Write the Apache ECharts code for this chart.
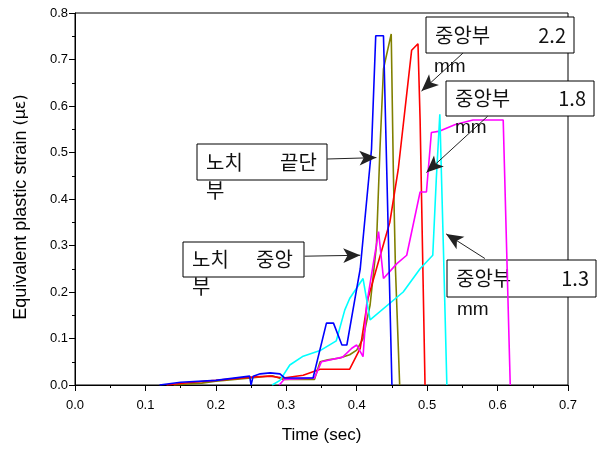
<!DOCTYPE html>
<html><head><meta charset="utf-8">
<script src="https://cdn.jsdelivr.net/npm/echarts@6/dist/echarts.min.js"></script>
<style>html,body{margin:0;padding:0;background:#fff}#c{width:600px;height:449px}</style>
</head><body><div id="c"></div>
<script>
// ---- data (time in sec, equivalent plastic strain) ----
const blueData = [[0.12,0],[0.15,0.006],[0.2,0.01],[0.248,0.019],[0.25,0],[0.253,0.019],[0.263,0.024],[0.277,0.026],[0.291,0.024],[0.298,0.015],[0.338,0.015],[0.357,0.133],[0.367,0.133],[0.379,0.086],[0.386,0.086],[0.398,0.19],[0.405,0.25],[0.421,0.507],[0.427,0.751],[0.438,0.751],[0.443,0.44],[0.45,0]];
const oliveData = [[0.14,0],[0.18,0.004],[0.2,0.008],[0.25,0.015],[0.28,0.02],[0.296,0.012],[0.34,0.012],[0.348,0.05],[0.359,0.054],[0.376,0.058],[0.39,0.065],[0.4,0.075],[0.409,0.1],[0.419,0.172],[0.428,0.3],[0.433,0.507],[0.438,0.68],[0.449,0.755],[0.452,0.46],[0.455,0.25],[0.461,0]];
const redData = [[0.13,0],[0.16,0.005],[0.2,0.01],[0.25,0.017],[0.277,0.019],[0.296,0.015],[0.324,0.021],[0.348,0.034],[0.39,0.034],[0.405,0.079],[0.416,0.186],[0.428,0.25],[0.447,0.35],[0.459,0.464],[0.478,0.72],[0.487,0.734],[0.49,0.571],[0.497,0]];
const magentaData = [[0.29,0],[0.297,0.012],[0.34,0.015],[0.35,0.05],[0.38,0.06],[0.393,0.079],[0.4,0.086],[0.409,0.061],[0.414,0.172],[0.431,0.33],[0.438,0.229],[0.457,0.261],[0.471,0.279],[0.49,0.415],[0.499,0.415],[0.506,0.543],[0.518,0.546],[0.54,0.56],[0.565,0.57],[0.608,0.57],[0.618,0]];
const cyanData = [[0.28,0],[0.291,0.01],[0.305,0.043],[0.324,0.062],[0.348,0.074],[0.371,0.095],[0.383,0.161],[0.39,0.186],[0.409,0.229],[0.419,0.14],[0.466,0.2],[0.49,0.25],[0.508,0.279],[0.513,0.443],[0.518,0.582],[0.523,0.3],[0.528,0]];

// ---- annotation arrows (data coords: from -> to) ----
const arrow22 = [[0.551,0.714],[0.492,0.632]];
const arrow18 = [[0.586,0.578],[0.499,0.457]];
const arrowTip = [[0.358,0.486],[0.428,0.489]];
const arrowMid = [[0.326,0.277],[0.405,0.279]];
const arrow13 = [[0.582,0.272],[0.527,0.325]];

const xMin = 0, xMax = 0.7, xStep = 0.1;
const yMin = 0, yMax = 0.8, yStep = 0.1;

const chart = echarts.init(document.getElementById('c'));
const FONT = '"Liberation Sans", Arial, "Noto Sans CJK KR", sans-serif';
const KFONT = '"Noto Sans CJK KR", "Liberation Sans", sans-serif';

function line(name, data, color, arrows){
  return {
    name, type:'line', data, showSymbol:false, symbol:'none',
    lineStyle:{color, width:1.6}, itemStyle:{color},
    markLine: arrows ? {
      silent:true, symbol:['none','arrow'], symbolSize:[11,17],
      lineStyle:{color:'#222', width:1, type:'solid'},
      label:{show:false}, animation:false,
      data: arrows.map(p => [{coord:p[0]},{coord:p[1]}])
    } : undefined
  };
}

function box(x, y, w, h, parts){
  const children = [{type:'rect', shape:{x:0,y:0,width:w,height:h}, style:{fill:'#fff', stroke:'#000', lineWidth:1}}];
  parts.forEach(p => children.push({type:'text', x:p[1], y:p[2], style:{text:p[0], font: '20px ' + KFONT, fill:'#111', align:p[3]||'left', verticalAlign:'middle'}}));
  return {type:'group', x, y, children, z:100};
}

chart.setOption({
  animation:false,
  backgroundColor:'#fff',
  grid:{left:75, right:32, top:13, bottom:62, show:true, borderColor:'#000', borderWidth:1},
  xAxis:{
    type:'value', min:xMin, max:xMax, interval:xStep,
    name:'Time (sec)', nameLocation:'middle', nameGap:42,
    nameTextStyle:{fontFamily:FONT, fontSize:17, color:'#000'},
    axisLine:{lineStyle:{color:'#000', width:1}},
    axisTick:{inside:false, length:6, lineStyle:{color:'#000'}},
    minorTick:{show:true, splitNumber:2, length:3, lineStyle:{color:'#000'}},
    splitLine:{show:false},
    axisLabel:{fontFamily:FONT, fontSize:13, color:'#000', margin:14, formatter:v=>v.toFixed(1)}
  },
  yAxis:{
    type:'value', min:yMin, max:yMax, interval:yStep,
    name:'{a|Equivalent plastic strain }{b|(με)}', nameLocation:'middle', nameGap:45, nameRotate:90,
    nameTextStyle:{padding:[0,16,0,0], rich:{a:{fontFamily:FONT, fontSize:18, color:'#000'}, b:{fontFamily:'"DejaVu Sans", sans-serif', fontSize:16, color:'#000'}}},
    axisLine:{lineStyle:{color:'#000', width:1}},
    axisTick:{inside:false, length:6, lineStyle:{color:'#000'}},
    minorTick:{show:true, splitNumber:2, length:3, lineStyle:{color:'#000'}},
    splitLine:{show:false},
    axisLabel:{fontFamily:FONT, fontSize:13, color:'#000', margin:7, formatter:v=>v.toFixed(1)}
  },
  series:[
    line('olive', oliveData, '#808000'),
    line('red', redData, '#ff0000'),
    line('magenta', magentaData, '#ff00ff'),
    line('cyan', cyanData, '#00ffff'),
    line('blue', blueData, '#0000ff', [arrow22, arrow18, arrowTip, arrowMid, arrow13])
  ],
  graphic:[
    box(426,17,148,36,[['중앙부',9,18],['2.2',140,18,'right']]),
    {type:'text', x:434, y:67, z:100, style:{text:'mm', font:'19px '+FONT, fill:'#111', verticalAlign:'middle'}},
    box(446,81,148,35,[['중앙부',9,17],['1.8',140,17,'right']]),
    {type:'text', x:455, y:128, z:100, style:{text:'mm', font:'19px '+FONT, fill:'#111', verticalAlign:'middle'}},
    box(197,144,130,36,[['노치',9,18],['끝단',83,18]]),
    {type:'text', x:206, y:190, z:100, style:{text:'부', font:'20px '+KFONT, fill:'#111', verticalAlign:'middle'}},
    box(183,242,121,35,[['노치',9,17],['중앙',73,17]]),
    {type:'text', x:192, y:286, z:100, style:{text:'부', font:'20px '+KFONT, fill:'#111', verticalAlign:'middle'}},
    box(447,260,149,37,[['중앙부',9,18],['1.3',142,18,'right']]),
    {type:'text', x:457, y:310, z:100, style:{text:'mm', font:'19px '+FONT, fill:'#111', verticalAlign:'middle'}}
  ]
});
</script></body></html>
